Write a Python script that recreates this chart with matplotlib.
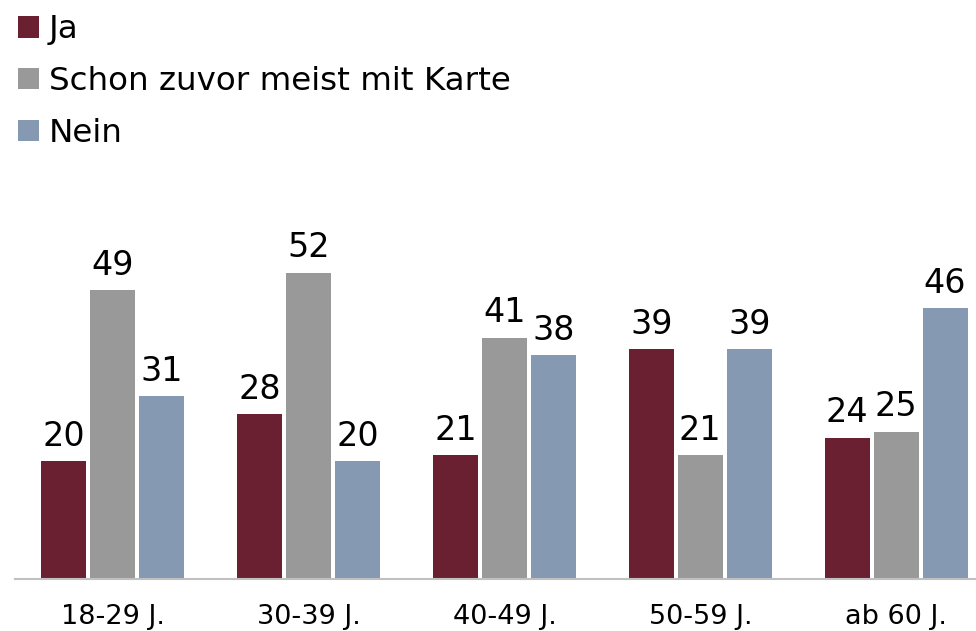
import numpy as np
import matplotlib.pyplot as plt

# Altersgruppen und Antworten (Werte in %)
gruppen = ["18-29 J.", "30-39 J.", "40-49 J.", "50-59 J.", "ab 60 J."]
ja = [20, 28, 21, 39, 24]
schon_karte = [49, 52, 41, 21, 25]
nein = [31, 20, 38, 39, 46]

serien = ["Ja", "Schon zuvor meist mit Karte", "Nein"]
farben = ["#6B2031", "#999999", "#8599B3"]

plt.rcParams['font.family'] = ['DejaVu Sans']

fig = plt.figure(figsize=(9.76, 6.31), dpi=100)
ax = fig.add_axes([15 / 976, 52 / 631, 1 - 15 / 976, 579 / 631])

x = np.arange(len(gruppen))
breite = 0.23
schritt = 0.25

handles = []
for i, (werte, farbe) in enumerate(zip([ja, schon_karte, nein], farben)):
    bars = ax.bar(x + (i - 1) * schritt, werte, width=breite, color=farbe, label=serien[i])
    ax.bar_label(bars, padding=6, fontsize=24)
    handles.append(bars)

ax.set_xlim(-0.5, 4 + 80 / 196)
ax.set_ylim(0, 579 / 5.89)
ax.set_xticks(x)
ax.set_xticklabels(gruppen, fontsize=19.5)
ax.tick_params(axis="x", length=0, pad=18)
ax.set_yticks([])
for s in ["top", "right", "left"]:
    ax.spines[s].set_visible(False)
ax.spines["bottom"].set_color("#C0C0C0")
ax.spines["bottom"].set_linewidth(1.5)

fig.legend(handles=handles, labels=serien, loc="upper left",
           bbox_to_anchor=(0.005, 0.998), frameon=False, fontsize=23.4,
           handlelength=0.65, handleheight=0.65, handletextpad=0.3,
           labelspacing=0.64, borderaxespad=0)

fig.savefig("out.png", dpi=100)
